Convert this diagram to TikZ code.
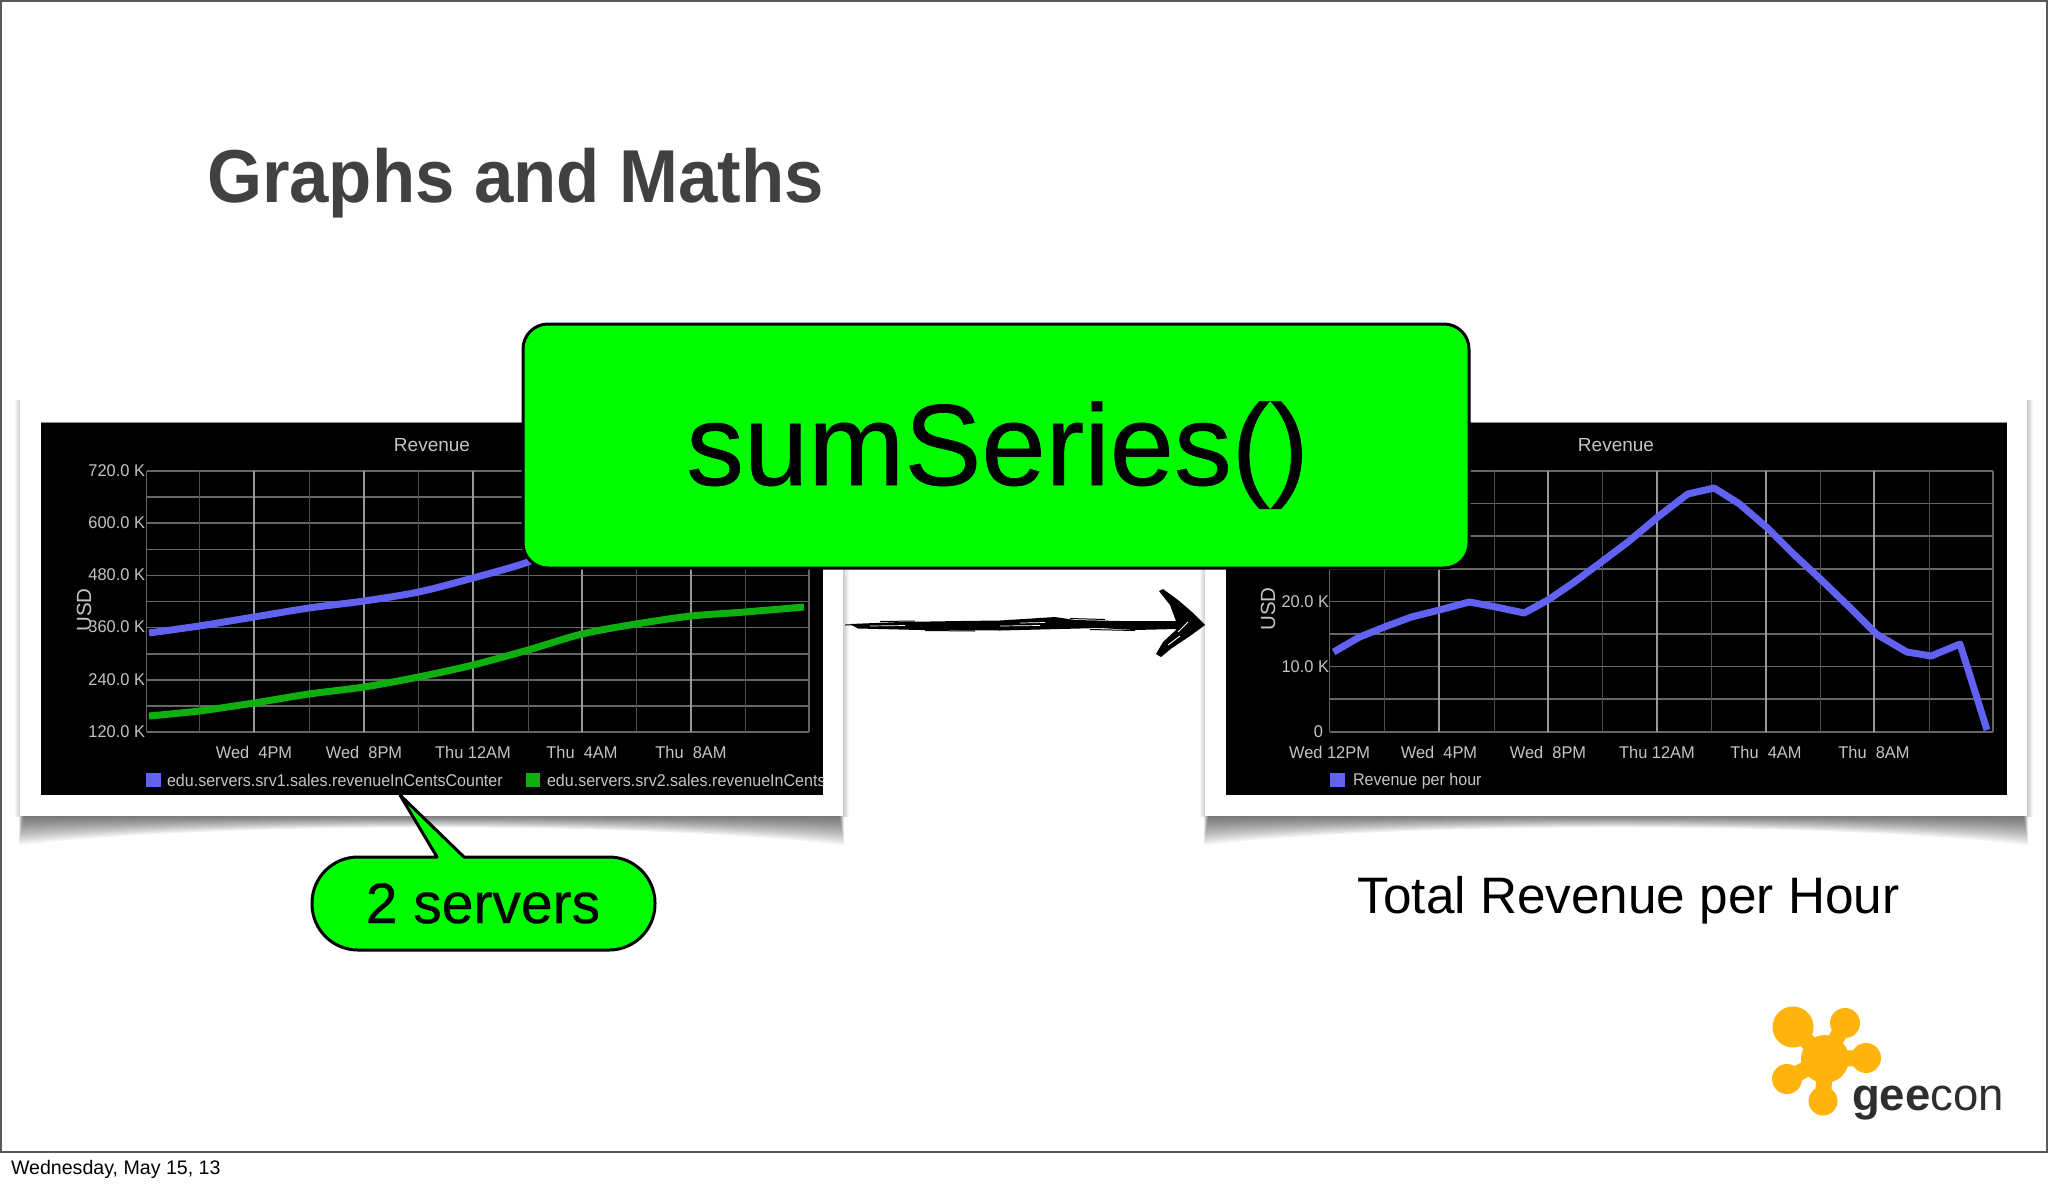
\documentclass[tikz,border=0pt]{standalone}
\usepackage{fontspec}
\setmainfont{Liberation Sans}
\newfontfamily\heavyfont[FakeBold=0.5]{Liberation Sans}
\definecolor{keygreen}{HTML}{00FC00}
\definecolor{lineblue}{HTML}{6262F2}
\definecolor{linegreen}{HTML}{0FAF0F}
\definecolor{logoyel}{HTML}{FFB30D}
\definecolor{titlegray}{HTML}{414141}
\definecolor{chartlabel}{HTML}{C4C4C4}
\newcommand{\fs}[1]{\fontsize{#1}{#1}\selectfont}
\newcommand{\cardshadow}[2]{%
  \foreach \d in {30,28,...,2}{
    \fill[black,opacity=0.048]
      ({#1+4-\d/6},815) -- ({#2-4+\d/6},815) -- ({#2-4+\d/6},{815+\d})
      .. controls ({#2-200},{815+0.22*\d}) and ({#1+200},{815+0.22*\d}) .. ({#1+4-\d/6},{815+\d}) -- cycle;
  }
  \shade[left color=white,right color=black!20] ({#1-6},400) rectangle (#1,816);
  \shade[left color=black!20,right color=white] (#2,400) rectangle ({#2+6},816);
  \fill[white] (#1,398) rectangle (#2,816);
}
\tikzset{
  x=1pt,y=-1pt,
  textline/.style={inner sep=0,outer sep=0,anchor=base},
  chartlab/.style={inner sep=0,outer sep=0,text=chartlabel,font=\fs{17}},
  ylab/.style={chartlab,anchor=east,xscale=0.965},
  xlab/.style={chartlab,anchor=center,xscale=0.965},
  legendtxt/.style={chartlab,anchor=west,xscale=0.945},
  hgrid/.style={draw=black!60,line width=1.6pt},
  minorv/.style={draw=black!70,line width=1pt},
  majorv/.style={draw=black!40,line width=1.1pt},
  series/.style={line width=7pt,line join=round},
  greenbox/.style={fill=keygreen,draw=black,line width=3pt,rounded corners=25pt},
  logoarm/.style={draw=logoyel,line width=16pt,line cap=round},
  scratch/.style={draw=black,line width=1pt},
}
\begin{document}
\begin{tikzpicture}
\useasboundingbox (0,0) rectangle (2048,1184);
\fill[white] (0,0) rectangle (2048,1184);
% slide frame
\draw[draw=black!65,line width=2pt] (1,1) rectangle (2047,1152);

% title
\node[textline,anchor=base west,text=titlegray,font=\fs{75}\bfseries,xscale=0.943] (title) at (207,202) {Graphs and Maths};

% cards
\cardshadow{20}{843}
\cardshadow{1205}{2027}

% ---------- left chart ----------
\fill[black] (41,422) rectangle (823,795);
\draw[black!45,line width=1pt] (41,422) -- (823,422);
\foreach \i in {0,...,10}{ \draw[hgrid] (146.5,{471+26.1*\i}) -- (809,{471+26.1*\i}); }
\foreach \x in {199,309,418.5,528,636,745}{ \draw[minorv] (\x,471) -- (\x,732); }
\foreach \x in {254,364,473,582,691}{ \draw[majorv] (\x,471) -- (\x,732); }
\draw[hgrid] (146.5,471) -- (146.5,732);
\draw[hgrid] (809,471) -- (809,732);
\draw[series,lineblue] plot[smooth,tension=0.5] coordinates {(149,633) (199,626) (254,617) (309,608) (364,601) (418.5,592) (473,578) (528,562) (560,545)};
\draw[series,linegreen] plot[smooth,tension=0.5] coordinates {(149,716) (199,711) (254,703) (309,694) (364,687) (418.5,677) (473,665) (528,650) (582,634) (636,624) (691,616) (745,612) (804,607)};
\node[chartlab,font=\fs{19}] (ltitle) at (432,445) {Revenue};
\node[chartlab,font=\fs{20.5},rotate=90] (lusd) at (84,610) {USD};
\node[ylab] (l720) at (145,471) {720.0 K};
\node[ylab] (l600) at (145,523) {600.0 K};
\node[ylab] (l480) at (145,575) {480.0 K};
\node[ylab] (l360) at (145,627) {360.0 K};
\node[ylab] (l240) at (145,680) {240.0 K};
\node[ylab] (l120) at (145,732) {120.0 K};
\node[xlab] (lx1) at (254,752) {Wed\ \ 4PM};
\node[xlab] (lx2) at (364,752) {Wed\ \ 8PM};
\node[xlab] (lx3) at (473,752) {Thu 12AM};
\node[xlab] (lx4) at (582,752) {Thu\ \ 4AM};
\node[xlab] (lx5) at (691,752) {Thu\ \ 8AM};
\fill[lineblue] (146,773) rectangle (161,787);
\fill[linegreen] (525.5,773) rectangle (540,787);
\node[legendtxt] (lleg1) at (167,780) {edu.servers.srv1.sales.revenueInCentsCounter};
\begin{scope}
  \clip (541,765) rectangle (823,795);
  \node[legendtxt] (lleg2) at (547,780) {edu.servers.srv2.sales.revenueInCents};
\end{scope}

% ---------- right chart ----------
\fill[black] (1226,422) rectangle (2007,795);
\draw[black!45,line width=1pt] (1226,422) -- (2007,422);
\foreach \i in {0,...,8}{ \draw[hgrid] (1329.5,{471+32.6*\i}) -- (1993,{471+32.6*\i}); }
\foreach \x in {1384,1494,1602.6,1711,1820,1929}{ \draw[minorv] (\x,471) -- (\x,732); }
\foreach \x in {1439,1548,1657,1766,1874}{ \draw[majorv] (\x,471) -- (\x,732); }
\draw[hgrid] (1329.5,471) -- (1329.5,732);
\draw[hgrid] (1993,471) -- (1993,732);
\draw[series,lineblue] (1333.6,652) -- (1359.6,637) -- (1387,626) -- (1411.4,617) -- (1439.4,610) -- (1469.3,602) -- (1496.2,607) -- (1524.2,613) -- (1548,600) -- (1573,583) -- (1600,563) -- (1627.9,542) -- (1657.8,517) -- (1687.7,494) -- (1714.2,488) -- (1739.6,504) -- (1767.5,528) -- (1794.5,555) -- (1821.4,580) -- (1849.3,607) -- (1876.3,634) -- (1906.8,652) -- (1931.1,656) -- (1960,644) -- (1987,730);
\node[chartlab,font=\fs{19}] (rtitle) at (1616,445) {Revenue};
\node[chartlab,font=\fs{20.5},rotate=90] (rusd) at (1268,609) {USD};
\node[ylab] (r20) at (1329,602) {20.0 K};
\node[ylab] (r10) at (1329,667) {10.0 K};
\node[ylab] (r0) at (1323,732) {0};
\node[xlab] (rx0) at (1329.5,752) {Wed 12PM};
\node[xlab] (rx1) at (1439,752) {Wed\ \ 4PM};
\node[xlab] (rx2) at (1548,752) {Wed\ \ 8PM};
\node[xlab] (rx3) at (1657,752) {Thu 12AM};
\node[xlab] (rx4) at (1766,752) {Thu\ \ 4AM};
\node[xlab] (rx5) at (1874,752) {Thu\ \ 8AM};
\fill[lineblue] (1330,773) rectangle (1345,787);
\node[legendtxt] (rleg) at (1353,781) {Revenue per hour};

% sketched arrow
\fill[black] (850,624) -- (900,622) -- (960,621) -- (1000,620.5) -- (1055,617) -- (1075,620) -- (1120,621) -- (1176,621)
  -- (1170,605) -- (1159,591) -- (1163,589) -- (1178,600) -- (1192,612) -- (1205,625) -- (1190,636) -- (1172,648) -- (1161,657) -- (1156,654) -- (1163,642) -- (1177,629)
  -- (1135,630) -- (1100,628) -- (1000,630.5) -- (920,630) -- (858,628.5) -- cycle;
\draw[scratch] (845,625) -- (880,624.5);
\draw[scratch] (880,621.5) -- (915,621);
\draw[scratch] (925,630.5) -- (975,631);
\draw[scratch] (1070,618.5) -- (1105,619.5);
\draw[scratch] (1090,629.5) -- (1135,630.5);
\draw[white,line width=0.9pt] (1178,632) -- (1188,622);
\draw[white,line width=0.9pt] (1168,645) -- (1180,636);
\draw[white,line width=0.7pt] (1000,626) -- (1040,625.5);
\draw[white,line width=0.7pt] (870,626) -- (905,625.5);
\draw[white,line width=0.7pt] (1020,623) -- (1045,622.5);

% big green box
\draw[greenbox] (523,324) rectangle (1469,568);
\node[textline,text=black,font=\heavyfont\fs{115.5}] (sum) at (997.5,485) {sumSeries()};

% callout
\draw[fill=keygreen,draw=black,line width=3pt,line join=round]
  (400,795) -- (464,857)
  [rounded corners=46pt] -- (655,857) -- (655,950) -- (312,950) -- (312,857)
  [sharp corners] -- (437,857) -- cycle;
\node[textline,text=black,font=\heavyfont\fs{57}] (srv) at (483,923) {2 servers};

% caption
\node[textline,text=black,font=\fs{51.3}] (caption) at (1628.5,913) {Total Revenue per Hour};

% logo
\coordinate (lc) at (1825,1059);
\foreach \px/\py in {1793/1027,1845/1023,1866/1058,1787/1079,1823/1101}{
  \draw[logoarm] (lc) -- (\px,\py);
}
\fill[logoyel] (lc) circle[radius=24pt];
\fill[logoyel] (1793,1027) circle[radius=20.5pt];
\fill[logoyel] (1845,1023) circle[radius=15pt];
\fill[logoyel] (1866,1058) circle[radius=15pt];
\fill[logoyel] (1787,1079) circle[radius=15pt];
\fill[logoyel] (1823,1101) circle[radius=14.5pt];
\node[textline,anchor=base west,text=black!82,font=\fs{45.5}] (gee) at (1852,1110) {\textbf{gee}con};

% footer
\node[textline,anchor=base west,text=black,font=\fs{19.6}] (foot) at (11,1174) {Wednesday, May 15, 13};
\end{tikzpicture}
\end{document}
